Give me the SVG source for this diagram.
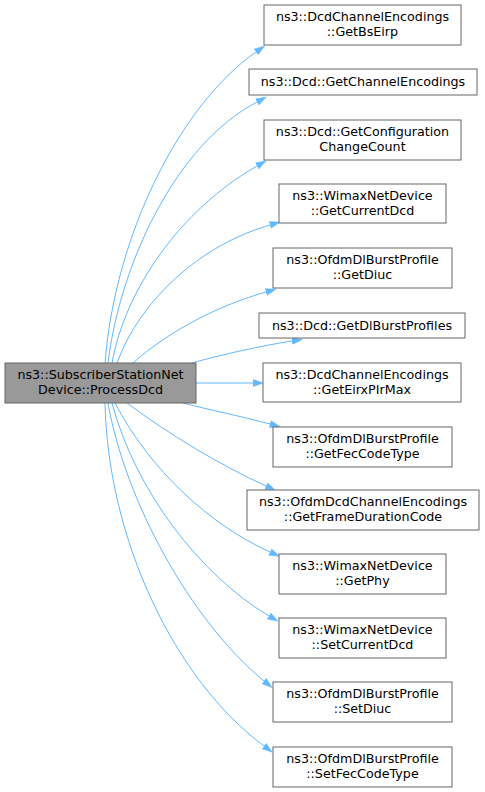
<svg xmlns="http://www.w3.org/2000/svg" width="485" height="792" viewBox="0 0 485 792">
<style>
.n rect{fill:#ffffff;stroke:#666666;stroke-width:1}
.n.main rect{fill:#999999}
.n text{font-family:"DejaVu Sans",sans-serif;font-size:12.7px;fill:#000000;text-anchor:middle}
.e path{fill:none;stroke:#63b8ff;stroke-width:1;marker-end:url(#ah)}
</style>
<defs>
<marker id="ah" markerUnits="userSpaceOnUse" markerWidth="11" markerHeight="8" refX="0" refY="4" orient="auto" viewBox="0 0 11 8">
<path d="M0,0.5 L10.5,4 L0,7.5 Z" fill="#63b8ff" stroke="#63b8ff" stroke-width="0.5"/>
</marker>
</defs>
<rect width="485" height="792" fill="#ffffff"/>
<g class="e" id="edges">
<path d="M105,363 C115,235 180,105 256,52"/>
<path d="M108,363 C120,265 175,145 257,102"/>
<path d="M112,363 C125,290 180,210 257,166"/>
<path d="M117,363 C140,300 200,245 270,225"/>
<path d="M133,363 C170,330 220,305 266,292"/>
<path d="M192,363 C220,355 260,346 292,341"/>
<path d="M196,383 L253,383"/>
<path d="M183,403 C210,410 240,416 270,424"/>
<path d="M127,403 C170,435 220,465 266,486"/>
<path d="M115,403 C150,470 210,525 270,552"/>
<path d="M112,403 C135,490 200,575 269,616"/>
<path d="M108,403 C125,500 190,620 264,681"/>
<path d="M105,403 C108,540 175,680 264,746"/>
</g>
<g class="n main" id="node-main"><rect x="5" y="363" width="191" height="40"/><text x="100.5" y="379">ns3::SubscriberStationNet</text><text x="100.5" y="394">Device::ProcessDcd</text></g>
<g class="n" id="node-getbseirp"><rect x="264" y="5" width="197" height="40"/><text x="362.5" y="21">ns3::DcdChannelEncodings</text><text x="362.5" y="36">::GetBsEirp</text></g>
<g class="n" id="node-getchannelencodings"><rect x="249" y="69" width="228" height="26"/><text x="363" y="86">ns3::Dcd::GetChannelEncodings</text></g>
<g class="n" id="node-getconfigurationchangecount"><rect x="264" y="120" width="197" height="40"/><text x="362.5" y="136">ns3::Dcd::GetConfiguration</text><text x="362.5" y="151">ChangeCount</text></g>
<g class="n" id="node-getcurrentdcd"><rect x="279" y="184" width="167" height="39"/><text x="362.5" y="200">ns3::WimaxNetDevice</text><text x="362.5" y="215">::GetCurrentDcd</text></g>
<g class="n" id="node-getdiuc"><rect x="273" y="248" width="179" height="40"/><text x="362.5" y="264">ns3::OfdmDlBurstProfile</text><text x="362.5" y="279">::GetDiuc</text></g>
<g class="n" id="node-getdlburstprofiles"><rect x="259" y="313" width="206" height="25"/><text x="362" y="330">ns3::Dcd::GetDlBurstProfiles</text></g>
<g class="n" id="node-geteirxpirmax"><rect x="263" y="363" width="198" height="39"/><text x="362" y="379">ns3::DcdChannelEncodings</text><text x="362" y="394">::GetEirxPIrMax</text></g>
<g class="n" id="node-getfeccodetype"><rect x="273" y="427" width="179" height="40"/><text x="362.5" y="443">ns3::OfdmDlBurstProfile</text><text x="362.5" y="458">::GetFecCodeType</text></g>
<g class="n" id="node-getframedurationcode"><rect x="247" y="490" width="232" height="40"/><text x="363" y="506">ns3::OfdmDcdChannelEncodings</text><text x="363" y="521">::GetFrameDurationCode</text></g>
<g class="n" id="node-getphy"><rect x="279" y="554" width="167" height="40"/><text x="362.5" y="570">ns3::WimaxNetDevice</text><text x="362.5" y="585">::GetPhy</text></g>
<g class="n" id="node-setcurrentdcd"><rect x="279" y="618" width="167" height="40"/><text x="362.5" y="634">ns3::WimaxNetDevice</text><text x="362.5" y="649">::SetCurrentDcd</text></g>
<g class="n" id="node-setdiuc"><rect x="273" y="682" width="179" height="40"/><text x="362.5" y="698">ns3::OfdmDlBurstProfile</text><text x="362.5" y="713">::SetDiuc</text></g>
<g class="n" id="node-setfeccodetype"><rect x="273" y="747" width="179" height="40"/><text x="362.5" y="763">ns3::OfdmDlBurstProfile</text><text x="362.5" y="778">::SetFecCodeType</text></g>
</svg>
